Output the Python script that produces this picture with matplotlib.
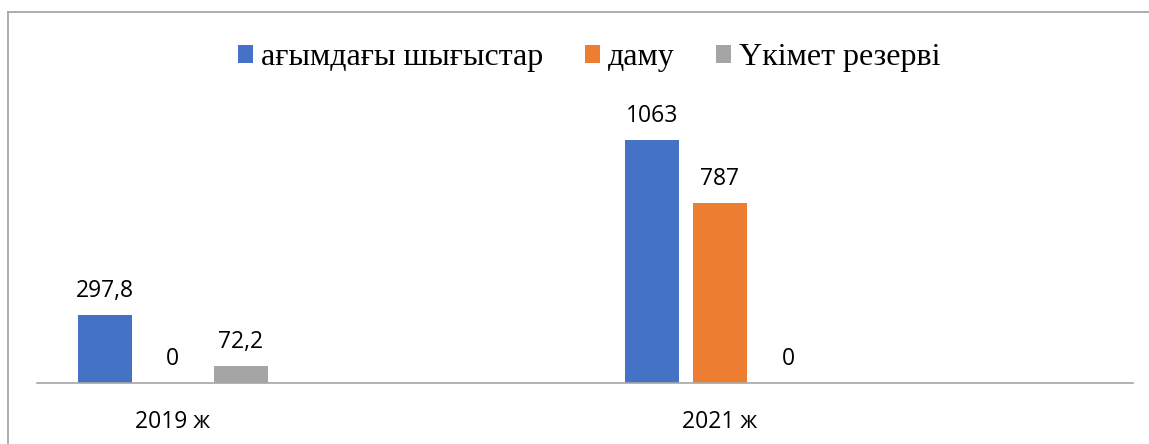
import matplotlib
matplotlib.use("Agg")
import matplotlib.pyplot as plt
from matplotlib.patches import Patch
from matplotlib.lines import Line2D
import numpy as np

categories = ["2019 ж", "2021 ж"]
series_names = ["ағымдағы шығыстар", "даму", "Үкімет резерві"]
current_spending = [297.8, 1063]
development = [0, 787]
gov_reserve = [72.2, 0]
value_labels = [["297,8", "1063"], ["0", "787"], ["72,2", "0"]]
colors = ["#4472C4", "#ED7D31", "#A5A5A5"]

W, H = 1149, 444
fig = plt.figure(figsize=(W / 100, H / 100), dpi=100)

ax_left, ax_right = 37, 1133
ax_bottom, ax_top = 383, 100
ax = fig.add_axes([ax_left / W, (H - ax_bottom) / H,
                   (ax_right - ax_left) / W, (ax_bottom - ax_top) / H])

x = np.arange(len(categories))
step = 0.1243
width = 0.0987
series = [current_spending, development, gov_reserve]
label_font = "Open Sans"
for i, (vals, col, labs) in enumerate(zip(series, colors, value_labels)):
    pos = x + (i - 1) * step
    ax.bar(pos, vals, width=width, color=col, zorder=2)
    for px, v, lab in zip(pos, vals, labs):
        ax.annotate(lab, (px, v), xytext=(0, 8.8), textcoords="offset points",
                    ha="center", va="bottom", fontsize=16.5,
                    family=label_font, color="#000000")

ax.set_xlim(-0.2477, 1.7545)
ax.set_ylim(0, 1238)
for s in ["top", "right", "left"]:
    ax.spines[s].set_visible(False)
ax.spines["bottom"].set_color("#a6a6a6")
ax.spines["bottom"].set_linewidth(1.2)
ax.set_yticks([])
ax.set_xticks(x)
ax.set_xticklabels(categories, fontsize=16.5, family=label_font, color="#000000")
ax.tick_params(axis="x", length=0, pad=19.5)

handles = [Patch(facecolor=c, edgecolor="none") for c in colors]
fig.legend(handles, series_names, loc="center", bbox_to_anchor=(589 / W, 1 - 58 / H),
           ncol=3, frameon=False, prop={"family": "Liberation Serif", "size": 23},
           handlelength=0.47, handleheight=0.47, handletextpad=0.25,
           columnspacing=1.3)

border_x = 7.5 / W
border_y = 1 - 12 / H
fig.add_artist(Line2D([border_x, 1.0], [border_y, border_y], transform=fig.transFigure,
                      color="#a6a6a6", linewidth=1.3))
fig.add_artist(Line2D([border_x, border_x], [0.0, border_y], transform=fig.transFigure,
                      color="#a6a6a6", linewidth=1.3))

fig.savefig("out.png", dpi=100)
